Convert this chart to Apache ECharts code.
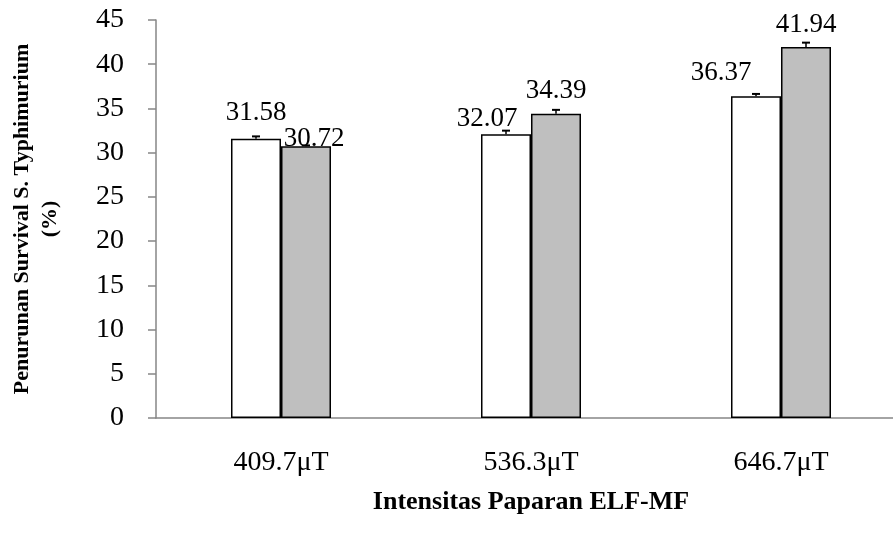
<!DOCTYPE html>
<html>
<head>
<meta charset="utf-8">
<script src="https://cdn.jsdelivr.net/npm/echarts@6/dist/echarts.min.js"></script>
<style>
html,body{margin:0;padding:0;background:#fff;overflow:hidden;width:893px;height:536px;}
#c{width:910px;height:536px;}
</style>
</head>
<body>
<div id="c"></div>
<script>
// ---- data ----
const categories = ['409.7\u03bcT', '536.3\u03bcT', '646.7\u03bcT'];
const seriesA = [31.58, 32.07, 36.37];
const seriesB = [30.72, 34.39, 41.94];
const errorA = [0.26, 0.42, 0.27];
const errorB = [0.10, 0.45, 0.50];
const yTicks = [0, 5, 10, 15, 20, 25, 30, 35, 40, 45];

// ---- style config (label nudges like the original) ----
const labelShiftA = [[0, -12], [-19, -2], [-35, -10]];
const labelShiftB = [[8, 6], [0, -9], [0, -9]];

const FONT = '"Liberation Serif","Times New Roman",serif';

function barData(vals, shifts) {
  return vals.map((v, i) => ({
    value: v,
    label: { offset: shifts[i] }
  }));
}

function errSeries(vals, errs, side) {
  return {
    type: 'custom',
    z: 5,
    data: vals.map((v, i) => [i, v, errs[i]]),
    renderItem: function (params, api) {
      const ci = api.value(0);
      const v = api.value(1);
      const e = api.value(2);
      const base = api.coord([ci, v]);
      const top = api.coord([ci, v + e]);
      const bw = api.size([1, 0])[0] * 0.2;
      const x = base[0] + side * bw;
      const cap = 4;
      return {
        type: 'group',
        children: [
          { type: 'line', shape: { x1: x, y1: base[1], x2: x, y2: top[1] }, style: { stroke: '#000', lineWidth: 1.5 } },
          { type: 'line', shape: { x1: x - cap, y1: top[1], x2: x + cap, y2: top[1] }, style: { stroke: '#000', lineWidth: 2 } }
        ]
      };
    },
    encode: { x: 0, y: 1 },
    silent: true
  };
}

const chart = echarts.init(document.getElementById('c'), null, { renderer: 'canvas' });
chart.setOption({
  backgroundColor: '#fff',
  animation: false,
  grid: { left: 148, right: 4, top: 20, bottom: 118, containLabel: false },
  xAxis: {
    type: 'category',
    data: categories,
    axisLine: { lineStyle: { color: '#868686', width: 1.5 } },
    axisTick: { show: false },
    axisLabel: { color: '#000', fontFamily: FONT, fontSize: 28, margin: 31 },
    name: 'Intensitas Paparan ELF-MF',
    nameLocation: 'middle',
    nameGap: 71,
    nameTextStyle: { color: '#000', fontFamily: FONT, fontSize: 26, fontWeight: 'bold' }
  },
  yAxis: {
    type: 'value',
    min: yTicks[0],
    max: yTicks[yTicks.length - 1],
    interval: 5,
    axisLine: { show: true, lineStyle: { color: '#868686', width: 1.5 } },
    axisTick: { show: true, length: 8, lineStyle: { color: '#868686', width: 1.5 } },
    splitLine: { show: false },
    axisLabel: { color: '#000', fontFamily: FONT, fontSize: 28, margin: 32 },
    name: 'Penurunan Survival S. Typhimurium\n(%)',
    nameLocation: 'middle',
    nameRotate: 90,
    nameGap: 92,
    nameTextStyle: { color: '#000', fontFamily: FONT, fontSize: 22, fontWeight: 'bold', lineHeight: 28 }
  },
  series: [
    {
      type: 'bar',
      data: barData(seriesA, labelShiftA),
      barWidth: '20%',
      barGap: '0%',
      itemStyle: { color: '#FFFFFF', borderColor: '#000', borderWidth: 1.5 },
      label: { show: true, position: 'top', distance: 0, color: '#000', fontFamily: FONT, fontSize: 27, formatter: p => p.value.toFixed(2) }
    },
    {
      type: 'bar',
      data: barData(seriesB, labelShiftB),
      barWidth: '20%',
      barGap: '0%',
      itemStyle: { color: '#BFBFBF', borderColor: '#000', borderWidth: 1.5 },
      label: { show: true, position: 'top', distance: 0, color: '#000', fontFamily: FONT, fontSize: 27, formatter: p => p.value.toFixed(2) }
    },
    errSeries(seriesA, errorA, -0.5),
    errSeries(seriesB, errorB, 0.5)
  ]
});
</script>
</body>
</html>
